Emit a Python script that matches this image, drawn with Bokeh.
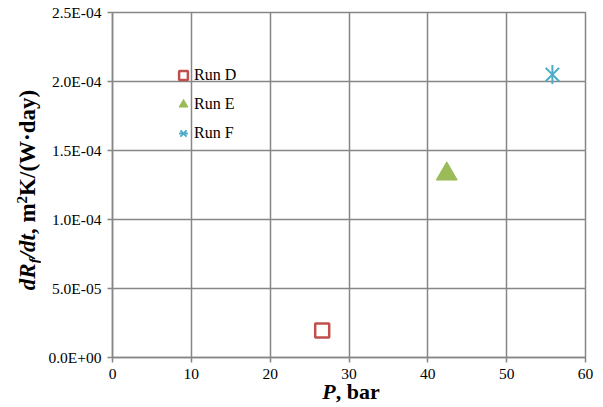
from math import pi
from bokeh.plotting import figure
from bokeh.layouts import row, column
from bokeh.models import (Range1d, FixedTicker, CustomJSTickFormatter, Div,
                          Legend, LegendItem)
from bokeh.embed import file_html
from bokeh.resources import INLINE

# ---- data ----
run_names = ["Run D", "Run E", "Run F"]
pressure_bar = [26.6, 42.4, 55.8]
fouling_rate = [1.95e-5, 1.33e-4, 2.05e-4]
x_ticks = [0, 10, 20, 30, 40, 50, 60]
y_ticks = [0.0, 5e-5, 1e-4, 1.5e-4, 2e-4, 2.5e-4]
x_max, y_max = 60, 2.5e-4
y_title_html = "<i>dR<sub style='font-size:15px;vertical-align:-4px'>f</sub>/dt</i>, m<sup style='font-size:15px;vertical-align:8px'>2</sup>K/(W\u00b7day)"
x_title_html = "<i>P</i>, bar"

# ---- style ----
GRID = "#868686"
FONT = "Liberation Serif"
TITLE_W = 40
FRAME_W, FRAME_H = 473, 345

p = figure(frame_width=FRAME_W, frame_height=FRAME_H, output_backend="svg",
           toolbar_location=None,
           x_range=Range1d(0, x_max), y_range=Range1d(0, y_max),
           min_border_left=112 - TITLE_W, min_border_right=18,
           min_border_top=12, min_border_bottom=30)
p.background_fill_color = "white"
p.border_fill_color = "white"
p.outline_line_color = GRID
p.outline_line_width = 1.5

p.xaxis.ticker = FixedTicker(ticks=x_ticks)
p.yaxis.ticker = FixedTicker(ticks=y_ticks)
p.yaxis.formatter = CustomJSTickFormatter(code="""
const s = tick.toExponential(1);
const parts = s.split('e');
const n = parseInt(parts[1]);
const a = Math.abs(n);
return parts[0] + 'E' + (n < 0 ? '-' : '+') + (a < 10 ? '0' : '') + a;
""")
for ax in (p.xaxis, p.yaxis):
    ax.axis_line_color = GRID
    ax.axis_line_width = 1.5
    ax.major_tick_line_color = GRID
    ax.major_tick_line_width = 1.5
    ax.major_tick_out = 5
    ax.major_tick_in = 0
    ax.minor_tick_line_color = None
    ax.major_label_text_font = FONT
    ax.major_label_text_font_size = "15.5px"
    ax.major_label_text_color = "black"
p.yaxis.major_label_standoff = 6
p.xaxis.major_label_standoff = 6

p.xgrid.ticker = FixedTicker(ticks=x_ticks)
p.ygrid.ticker = FixedTicker(ticks=y_ticks)
for g in (p.xgrid, p.ygrid):
    g.grid_line_color = GRID
    g.grid_line_width = 1.5

# ---- points ----
r_d = p.scatter(x=[pressure_bar[0]], y=[fouling_rate[0]], marker="square", size=14,
                line_color="#C0504D", line_width=2.5, fill_color="white")
r_e = p.scatter(x=[pressure_bar[1]], y=[fouling_rate[1]], marker="triangle", size=21,
                line_color="#9BBB59", line_width=1, fill_color="#9BBB59")
r_f1 = p.scatter(x=[pressure_bar[2]], y=[fouling_rate[2]], marker="x", size=19,
                 line_color="#4BACC6", line_width=2)
r_f2 = p.scatter(x=[pressure_bar[2]], y=[fouling_rate[2]], marker="dash", size=19,
                 angle=pi / 2, line_color="#4BACC6", line_width=2)

legend = Legend(items=[LegendItem(label=run_names[0], renderers=[r_d]),
                       LegendItem(label=run_names[1], renderers=[r_e]),
                       LegendItem(label=run_names[2], renderers=[r_f1, r_f2])],
                location=(60, 213), border_line_color=None, background_fill_alpha=0,
                label_text_font=FONT, label_text_font_size="16px",
                label_text_color="black",
                glyph_width=22, glyph_height=22, spacing=7, padding=4,
                label_standoff=0, margin=0)
p.add_layout(legend)

# ---- axis titles as rich HTML text ----
fig_h = 12 + FRAME_H + 30
y_div = Div(width=TITLE_W, height=fig_h, margin=0, text=(
    f"<div style=\"position:relative;width:{TITLE_W}px;height:{fig_h}px;\">"
    "<span style=\"position:absolute;left:11px;top:190px;transform-origin:0 0;"
    "transform:rotate(-90deg) translateX(-50%);white-space:nowrap;"
    f"font-family:'{FONT}',serif;font-weight:bold;font-size:23px;line-height:23px;"
    f"color:#000;\">{y_title_html}</span></div>"))
x_div = Div(width=603, height=407 - fig_h, margin=0, text=(
    f"<div style=\"position:relative;width:603px;height:{407 - fig_h}px;\">"
    "<span style=\"position:absolute;left:351px;top:-6px;transform:translateX(-50%);"
    f"white-space:nowrap;font-family:'{FONT}',serif;font-weight:bold;font-size:22px;"
    f"line-height:22px;color:#000;\">{x_title_html}</span></div>"))

layout = column(row(y_div, p, spacing=0), x_div, spacing=0)
open("out.html", "w").write(file_html(layout, INLINE))
